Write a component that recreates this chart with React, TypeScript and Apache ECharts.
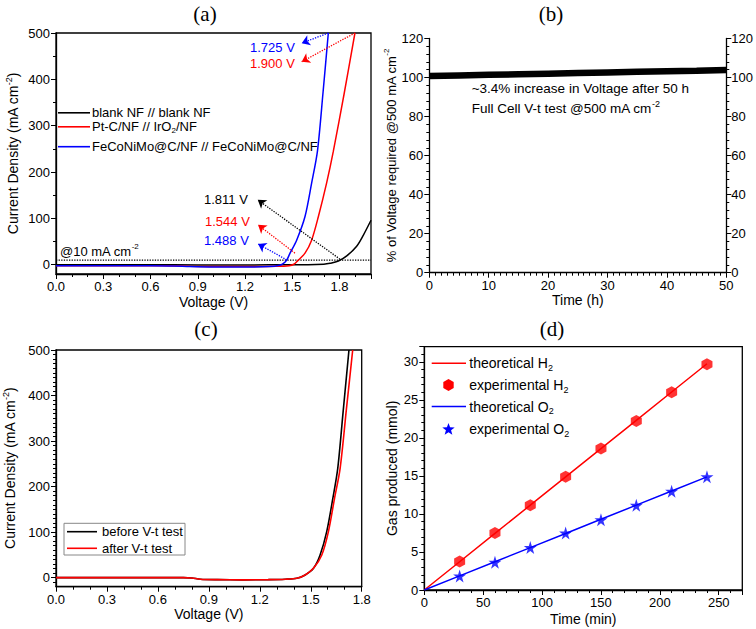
import React, { useEffect, useRef } from 'react';
import * as echarts from 'echarts';

// ---------- (a) two-electrode polarization curves ----------
const blankV = [0, 0.3, 0.6, 0.9, 1.2, 1.5, 1.6, 1.7, 1.74, 1.793, 1.846, 1.909, 1.95, 2.0];
const blankJ = [0, 0, 0, -0.5, -0.5, 0, 0, 1, 3, 8, 19, 40, 63, 96];
const ptcV = [0, 0.3, 0.6, 0.75, 0.85, 1.0, 1.2, 1.4, 1.48, 1.51, 1.539, 1.581, 1.623, 1.666, 1.718, 1.761, 1.83, 1.898];
const ptcJ = [-2, -2, -2, -2.5, -3.5, -4, -4, -3.5, -2, 1, 10, 25, 53, 104, 176, 245, 370, 500];
const fecoV = [0, 0.3, 0.6, 0.75, 0.85, 1.0, 1.2, 1.35, 1.42, 1.44, 1.465, 1.486, 1.528, 1.581, 1.623, 1.66, 1.695, 1.729];
const fecoJ = [-2, -2, -2, -2.5, -4, -5, -5, -4, -1, 2, 10, 25, 53, 104, 176, 245, 370, 500];
const refCurrent = 10;
const voltTicksA = [0, 0.3, 0.6, 0.9, 1.2, 1.5, 1.8];
const currentTicks = [0, 100, 200, 300, 400, 500];

// ---------- (b) stability ----------
const stabTime = [0, 5, 10, 15, 20, 25, 30, 35, 40, 45, 50];
const stabPct = [100.8, 101.1, 101.4, 101.7, 102.0, 102.3, 102.6, 102.9, 103.2, 103.5, 103.9];

// ---------- (c) before / after V-t ----------
const beforeV = [0, 0.3, 0.6, 0.75, 0.8, 0.85, 0.95, 1.1, 1.25, 1.35, 1.418, 1.467, 1.516, 1.555, 1.594, 1.63, 1.659, 1.69, 1.725];
const beforeJ = [0, 0, 0, 0, -1, -3.5, -4.5, -5, -4.5, -3.5, -1.5, 5.7, 20.4, 49.7, 101, 174, 240, 362, 500];
const afterV = [0, 0.3, 0.6, 0.75, 0.8, 0.85, 0.95, 1.1, 1.25, 1.35, 1.418, 1.467, 1.516, 1.565, 1.604, 1.64, 1.673, 1.71, 1.747];
const afterJ = [0, 0, 0, 0, -1, -3.5, -4.5, -5, -4.5, -3.5, -1.5, 5.7, 20.4, 49.7, 101, 174, 240, 370, 500];

// ---------- (d) gas production ----------
const gasTime = [0, 30, 60, 90, 120, 150, 180, 210, 240];
const theoH2 = [0, 3.72, 7.44, 11.16, 14.88, 18.6, 22.32, 26.04, 29.76];
const expH2 = [null, 3.74, 7.49, 11.14, 14.9, 18.6, 22.24, 26.0, 29.7];
const theoO2 = [0, 1.86, 3.72, 5.58, 7.44, 9.3, 11.16, 13.02, 14.88];
const expO2 = [null, 1.85, 3.66, 5.6, 7.49, 9.25, 11.14, 13.0, 14.9];

const SANS = "'Liberation Sans', Arial, Helvetica, sans-serif";
const SERIF = "'Liberation Serif', 'Times New Roman', serif";

const zip = (xs: number[], ys: (number | null)[]) =>
  xs.map((x, i) => [x, ys[i]]).filter((p) => p[1] !== null);

const richSet = (color: string, size: number, lh: number) => ({
  t: { fontSize: size, lineHeight: lh, fill: color, color, fontFamily: SANS },
  s: { fontSize: Math.round(size * 0.65), lineHeight: 6, verticalAlign: 'top', fill: color, color, fontFamily: SANS },
  b: { fontSize: Math.round(size * 0.65), lineHeight: 6, verticalAlign: 'bottom', fill: color, color, fontFamily: SANS },
});

const text = (x: number, y: number, str: string, color = '#000', size = 13, align = 'left', family = SANS, lh = 18) => ({
  type: 'text',
  x,
  y,
  z: 100,
  silent: true,
  style: {
    text: str,
    fill: color,
    fontSize: size,
    fontFamily: family,
    align,
    verticalAlign: 'middle',
    rich: richSet(color, size, lh),
  },
});

const legLine = (x1: number, x2: number, y: number, color: string) => ({
  type: 'line',
  z: 100,
  silent: true,
  shape: { x1, y1: y, x2, y2: y },
  style: { stroke: color, lineWidth: 1.6 },
});

const polyPoints = (cx: number, cy: number, n: number, r: number, inner: number | null, rot: number) => {
  const pts: number[][] = [];
  const count = inner ? n * 2 : n;
  for (let i = 0; i < count; i++) {
    const rr = inner && i % 2 === 1 ? inner : r;
    const a = rot + (i * 2 * Math.PI) / count;
    pts.push([cx + rr * Math.cos(a), cy + rr * Math.sin(a)]);
  }
  return pts;
};

const HEX = 'path://M5,0 L9.5,2.6 L9.5,7.8 L5,10.4 L0.5,7.8 L0.5,2.6 Z';
const STAR = 'path://M50,0 L61,35 L98,35 L68,57 L79,91 L50,70 L21,91 L32,57 L2,35 L39,35 Z';

const axisLine = { show: true, onZero: false, lineStyle: { color: '#000', width: 1.3 } };
const tick = { show: true, inside: false, length: 5, lineStyle: { color: '#000', width: 1 } };
const minor = (n: number) => ({ show: true, splitNumber: n, length: 3, lineStyle: { color: '#000', width: 1 } });
const label = { color: '#000', fontSize: 13, fontFamily: SANS, margin: 6 };
const nameStyle = (size = 14) => ({
  color: '#000',
  fontSize: size,
  fontFamily: SANS,
  rich: richSet('#000', size, size + 4),
});

const arrowLine = (color: string, from: number[], to: number[]) => [
  { coord: from, lineStyle: { color, type: 'dotted', width: 1.3 }, symbol: 'none' },
  { coord: to, symbol: 'arrow' },
];

export default function App() {
  const ref = useRef<HTMLDivElement>(null);
  useEffect(() => {
    if (!ref.current) return;
    const chart = echarts.init(ref.current, undefined, { renderer: 'svg' });
    const option: any = {
      animation: false,
      backgroundColor: '#fff',
      textStyle: { fontFamily: SANS },
      grid: [
        { left: 56, top: 33, width: 315, height: 241, show: true, borderColor: '#000', borderWidth: 1.3, backgroundColor: 'transparent' },
        { left: 429.3, top: 38.5, width: 297.4, height: 234.2 },
        { left: 55, top: 350, width: 306.7, height: 236.7, show: true, borderColor: '#000', borderWidth: 1.3, backgroundColor: 'transparent' },
        { left: 424.3, top: 346.7, width: 318, height: 243.3, show: true, borderColor: '#000', borderWidth: 1.3, backgroundColor: 'transparent' },
      ],
      xAxis: [
        {
          type: 'value', gridIndex: 0, min: 0, max: 2.0, interval: 0.3,
          axisLine, axisTick: tick, minorTick: minor(3), splitLine: { show: false },
          axisLabel: { ...label, showMaxLabel: false, formatter: (v: number) => (voltTicksA.some((t) => Math.abs(t - v) < 1e-6) ? v.toFixed(1) : '') },
          name: 'Voltage (V)', nameLocation: 'middle', nameGap: 21, nameTextStyle: nameStyle(),
        },
        {
          type: 'value', gridIndex: 1, min: 0, max: 50, interval: 10,
          axisLine, axisTick: tick, minorTick: minor(10), splitLine: { show: false },
          axisLabel: { ...label },
          name: 'Time (h)', nameLocation: 'middle', nameGap: 20, nameTextStyle: nameStyle(),
        },
        {
          type: 'value', gridIndex: 2, min: 0, max: 1.8, interval: 0.3,
          axisLine, axisTick: tick, minorTick: minor(3), splitLine: { show: false },
          axisLabel: { ...label, formatter: (v: number) => v.toFixed(1) },
          name: 'Voltage (V)', nameLocation: 'middle', nameGap: 20, nameTextStyle: nameStyle(),
        },
        {
          type: 'value', gridIndex: 3, min: 0, max: 270, interval: 50,
          axisLine, axisTick: tick, minorTick: minor(5), splitLine: { show: false },
          axisLabel: { ...label, showMaxLabel: false },
          name: 'Time (min)', nameLocation: 'middle', nameGap: 22, nameTextStyle: nameStyle(),
        },
      ],
      yAxis: [
        {
          type: 'value', gridIndex: 0, min: -20, max: 500, splitNumber: 5,
          axisLine, axisTick: { ...tick, customValues: currentTicks }, minorTick: minor(2), splitLine: { show: false },
          axisLabel: { ...label, customValues: currentTicks, formatter: (v: number) => (v < 0 ? '' : String(v)) },
          name: '{t|Current Density (mA cm}{s|-2}{t|)}', nameLocation: 'middle', nameRotate: 90, nameGap: 34, nameTextStyle: nameStyle(),
        },
        {
          type: 'value', gridIndex: 1, min: 0, max: 120, interval: 20, position: 'left',
          axisLine, axisTick: tick, minorTick: minor(5), splitLine: { show: false },
          axisLabel: { ...label },
          name: '{t|% of Voltage required @500 mA cm}{s|-2}', nameLocation: 'middle', nameRotate: 90, nameGap: 28, nameTextStyle: nameStyle(13),
        },
        {
          type: 'value', gridIndex: 1, min: 0, max: 120, interval: 20, position: 'right',
          axisLine, axisTick: tick, minorTick: minor(5), splitLine: { show: false },
          axisLabel: { ...label, margin: 5 },
        },
        {
          type: 'value', gridIndex: 2, min: -20, max: 500, splitNumber: 5,
          axisLine, axisTick: { ...tick, customValues: currentTicks }, minorTick: minor(10), splitLine: { show: false },
          axisLabel: { ...label, customValues: currentTicks, formatter: (v: number) => (v < 0 ? '' : String(v)) },
          name: '{t|Current Density (mA cm}{s|-2}{t|)}', nameLocation: 'middle', nameRotate: 90, nameGap: 37, nameTextStyle: nameStyle(),
        },
        {
          type: 'value', gridIndex: 3, min: 0, max: 32, interval: 5,
          axisLine, axisTick: tick, minorTick: minor(5), splitLine: { show: false },
          axisLabel: { ...label, showMaxLabel: false },
          name: 'Gas produced (mmol)', nameLocation: 'middle', nameRotate: 90, nameGap: 25, nameTextStyle: nameStyle(),
        },
      ],
      series: [
        {
          name: 'ref10', type: 'line', xAxisIndex: 0, yAxisIndex: 0, showSymbol: false, silent: true,
          data: [[0, refCurrent], [2.0, refCurrent]],
          lineStyle: { color: '#000', width: 1.3, type: 'dotted' },
        },
        {
          name: 'blank NF // blank NF', type: 'line', xAxisIndex: 0, yAxisIndex: 0, showSymbol: false, smooth: 0.3,
          data: zip(blankV, blankJ), lineStyle: { color: '#000', width: 1.5 }, itemStyle: { color: '#000' },
          markLine: {
            silent: true, symbolSize: 8, label: { show: false },
            data: [arrowLine('#000', [1.803, 12], [1.281, 140])],
          },
        },
        {
          name: 'Pt-C/NF // IrO2/NF', type: 'line', xAxisIndex: 0, yAxisIndex: 0, showSymbol: false, smooth: 0.3,
          data: zip(ptcV, ptcJ), lineStyle: { color: '#ff0000', width: 1.5 }, itemStyle: { color: '#ff0000' },
          markLine: {
            silent: true, symbolSize: 8, label: { show: false },
            data: [
              arrowLine('#ff0000', [1.517, 25], [1.283, 86]),
              arrowLine('#ff0000', [1.898, 500], [1.56, 438]),
            ],
          },
        },
        {
          name: 'FeCoNiMo@C/NF // FeCoNiMo@C/NF', type: 'line', xAxisIndex: 0, yAxisIndex: 0, showSymbol: false, smooth: 0.3,
          data: zip(fecoV, fecoJ), lineStyle: { color: '#0000ff', width: 1.5 }, itemStyle: { color: '#0000ff' },
          markLine: {
            silent: true, symbolSize: 8, label: { show: false },
            data: [
              arrowLine('#0000ff', [1.465, 10.5], [1.283, 45]),
              arrowLine('#0000ff', [1.729, 500], [1.56, 478]),
            ],
          },
        },
        {
          name: 'V-t', type: 'line', xAxisIndex: 1, yAxisIndex: 1, showSymbol: false,
          data: zip(stabTime, stabPct), lineStyle: { color: '#000', width: 6.5 },
        },
        {
          name: 'before V-t test', type: 'line', xAxisIndex: 2, yAxisIndex: 3, showSymbol: false, smooth: 0.3,
          data: zip(beforeV, beforeJ), lineStyle: { color: '#000', width: 1.6 },
        },
        {
          name: 'after V-t test', type: 'line', xAxisIndex: 2, yAxisIndex: 3, showSymbol: false, smooth: 0.3,
          data: zip(afterV, afterJ), lineStyle: { color: '#ff0000', width: 1.6 },
        },
        {
          name: 'theoretical H2', type: 'line', xAxisIndex: 3, yAxisIndex: 4, showSymbol: false,
          data: zip(gasTime, theoH2), lineStyle: { color: '#ff0000', width: 1.5 },
        },
        {
          name: 'theoretical O2', type: 'line', xAxisIndex: 3, yAxisIndex: 4, showSymbol: false,
          data: zip(gasTime, theoO2), lineStyle: { color: '#0000ff', width: 1.5 },
        },
        {
          name: 'experimental H2', type: 'scatter', xAxisIndex: 3, yAxisIndex: 4, symbol: HEX, symbolSize: [11, 12],
          data: zip(gasTime, expH2), itemStyle: { color: '#ff0000' },
        },
        {
          name: 'experimental O2', type: 'scatter', xAxisIndex: 3, yAxisIndex: 4, symbol: STAR, symbolSize: 13,
          data: zip(gasTime, expO2), itemStyle: { color: '#0000ff' },
        },
      ],
      graphic: [
        // panel titles
        text(205, 14, '(a)', '#000', 21, 'center', SERIF, 22),
        text(551, 14, '(b)', '#000', 21, 'center', SERIF, 22),
        text(206, 329, '(c)', '#000', 21, 'center', SERIF, 22),
        text(552, 329, '(d)', '#000', 21, 'center', SERIF, 22),
        // (a) legend
        legLine(58, 90, 112.8, '#000'),
        text(92, 112.8, '{t|blank NF // blank NF}', '#000', 13, 'left', SANS, 13),
        legLine(58, 90, 126.8, '#ff0000'),
        text(92, 126.8, '{t|Pt-C/NF // IrO}{b|2}{t|/NF}', '#000', 13, 'left', SANS, 15),
        legLine(58, 90, 146.7, '#0000ff'),
        text(92, 146.7, '{t|FeCoNiMo@C/NF // FeCoNiMo@C/NF}', '#000', 13, 'left', SANS, 15),
        // (a) annotations
        text(60, 251, '{t|@10 mA cm}{s|-2}'),
        text(204, 199, '{t|1.811 V}', '#000', 13, 'left', SANS, 14),
        text(205, 221.7, '{t|1.544 V}', '#ff0000', 13, 'left', SANS, 14),
        text(204, 240.7, '{t|1.488 V}', '#0000ff', 13, 'left', SANS, 14),
        text(250, 47.7, '{t|1.725 V}', '#0000ff', 13, 'left', SANS, 14),
        text(250, 63.3, '{t|1.900 V}', '#ff0000', 13, 'left', SANS, 14),
        // (b) notes
        text(471.7, 88.3, '{t|~3.4% increase in Voltage after 50 h}', '#000', 13.5, 'left', SANS, 15),
        text(471.7, 108.3, '{t|Full Cell V-t test @500 mA cm}{s|-2}', '#000', 13.5),
        // (c) legend
        {
          type: 'rect', z: 99, silent: true,
          shape: { x: 64, y: 523.3, width: 121, height: 31.7 },
          style: { fill: '#fff', stroke: '#888', lineWidth: 1 },
        },
        legLine(67, 97, 531.7, '#000'),
        text(102, 531.7, '{t|before V-t test}', '#000', 13, 'left', SANS, 14),
        legLine(67, 97, 548.3, '#ff0000'),
        text(102, 548.3, '{t|after V-t test}', '#000', 13, 'left', SANS, 14),
        // (d) legend
        legLine(431.7, 466, 363.3, '#ff0000'),
        text(469.3, 363.3, '{t|theoretical H}{b|2}', '#000', 14),
        {
          type: 'polygon', z: 100, silent: true,
          shape: { points: polyPoints(448.5, 385, 6, 6, null, -Math.PI / 2) },
          style: { fill: '#ff0000' },
        },
        text(469.3, 385, '{t|experimental H}{b|2}', '#000', 14),
        legLine(431.7, 466, 406.5, '#0000ff'),
        text(469.3, 406.5, '{t|theoretical O}{b|2}', '#000', 14),
        {
          type: 'polygon', z: 100, silent: true,
          shape: { points: polyPoints(448.5, 429.5, 5, 6.5, 2.7, -Math.PI / 2) },
          style: { fill: '#0000ff' },
        },
        text(469.3, 429.3, '{t|experimental O}{b|2}', '#000', 14),
      ],
    };
    chart.setOption(option);
    return () => chart.dispose();
  }, []);
  return (
    <div
      ref={ref}
      style={{ position: 'absolute', left: 0, top: 0, width: 756, height: 629, background: '#fff' }}
    />
  );
}
